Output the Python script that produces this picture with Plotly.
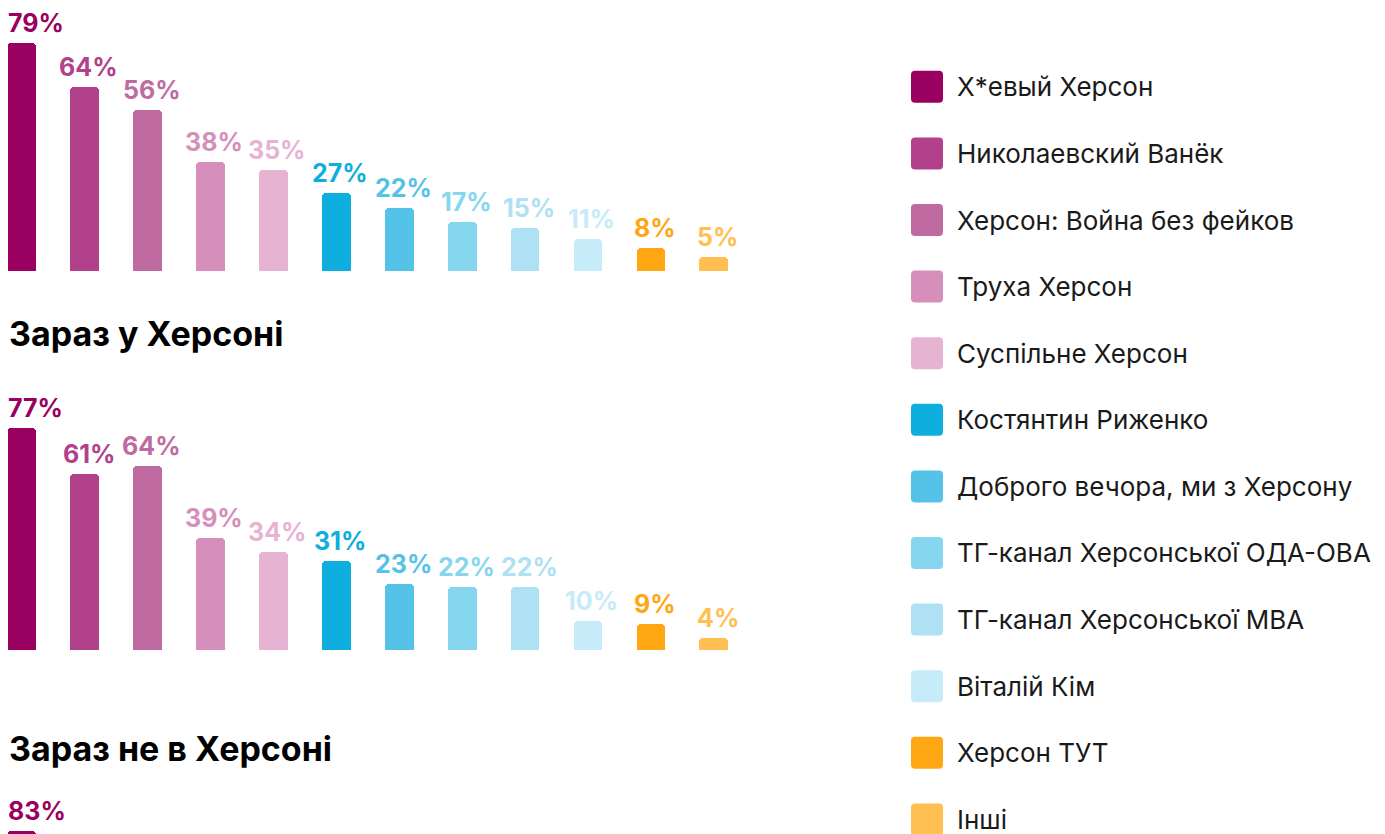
import plotly.graph_objects as go

# ---------------- data ----------------
channels = [
    "Х*евый Херсон",
    "Николаевский Ванёк",
    "Херсон: Война без фейков",
    "Труха Херсон",
    "Суспільне Херсон",
    "Костянтин Риженко",
    "Доброго вечора, ми з Херсону",
    "ТГ-канал Херсонської ОДА-ОВА",
    "ТГ-канал Херсонської МВА",
    "Віталій Кім",
    "Херсон ТУТ",
    "Інші",
]
colors = [
    "#990060", "#B1418A", "#BF6AA1", "#D68EBB", "#E6B3D3",
    "#0EAEDE", "#55C3E7", "#86D6EF", "#AEE1F3", "#C6ECFA",
    "#FFA712", "#FFBF52",
]
all_respondents = [79, 64, 56, 38, 35, 27, 22, 17, 15, 11, 8, 5]
in_kherson = [77, 61, 64, 39, 34, 31, 23, 22, 22, 10, 9, 4]
# only the first value of this panel is visible in the picture
not_in_kherson = [83, None, None, None, None, None, None, None, None, None, None, None]

panel_values = [all_respondents, in_kherson, not_in_kherson]
panel_titles = [None, "Зараз у Херсоні", "Зараз не в Херсоні"]

# ---------------- layout constants ----------------
PAGE_W, PAGE_H = 1385, 834
OFF = 8                      # default page margin around the plot div
W, H = PAGE_W - OFF, PAGE_H - OFF


def px_x(p):                 # page pixel -> paper x
    return (p - OFF) / W


def px_y(p):                 # page pixel -> paper y
    return 1 - (p - OFF) / H


PX_PER_PCT = 2.88
BAR_PITCH = 62.92
FIRST_CENTER = 21.7
BAR_PX = 28.8
BAR_W = BAR_PX / BAR_PITCH
X_DOMAIN_END = 880
x_r0 = (OFF - FIRST_CENTER) / BAR_PITCH
x_r1 = x_r0 + (X_DOMAIN_END - OFF) / BAR_PITCH

# (baseline px, top px, bottom px, title center px) in page pixels
panel_geom = [
    (271, OFF, 271, None),
    (650, 380, 650, 333),
    (1070, 790, PAGE_H, 748),
]

FONT = "Inter, Roboto, sans-serif"

fig = go.Figure()
layout = dict(
    width=W, height=H,
    margin=dict(l=0, r=0, t=0, b=0),
    paper_bgcolor="white", plot_bgcolor="white",
    showlegend=False,
    bargap=0,
)
annotations = []
shapes = []

xs = list(range(len(channels)))
for k, (vals, title, geom) in enumerate(zip(panel_values, panel_titles, panel_geom)):
    base, top, bottom, title_px = geom
    suffix = "" if k == 0 else str(k + 1)
    fig.add_trace(go.Bar(
        x=xs, y=vals, width=BAR_W,
        marker=dict(color=colors, cornerradius=4, line=dict(width=0)),
        xaxis="x" + suffix, yaxis="y" + suffix,
        hoverinfo="skip",
    ))
    layout["xaxis" + suffix] = dict(
        domain=[0, px_x(X_DOMAIN_END)], range=[x_r0, x_r1], visible=False,
        anchor="y" + suffix, fixedrange=True,
    )
    layout["yaxis" + suffix] = dict(
        domain=[max(0, px_y(bottom)), min(1, px_y(top))],
        range=[(base - bottom) / PX_PER_PCT, (base - top) / PX_PER_PCT],
        visible=False, anchor="x" + suffix, fixedrange=True,
    )
    for i, v in enumerate(vals):
        if v is None:
            continue
        first = i == 0
        annotations.append(dict(
            x=i, y=v,
            xref="x" + suffix, yref="y" + suffix,
            text=f"{v}%", showarrow=False,
            xanchor="left" if first else "center", yanchor="bottom",
            xshift=-(BAR_PX / 2 + 1) if first else 4, yshift=3,
            font=dict(family=FONT, size=25, color=colors[i], weight=700),
        ))
    if title:
        annotations.append(dict(
            x=px_x(7), y=px_y(title_px), xref="paper", yref="paper",
            text=title, showarrow=False, xanchor="left", yanchor="middle",
            font=dict(family=FONT, size=34, color="#000000", weight=700),
        ))

# ---------------- legend (colour key) ----------------
LEG_X = 911
LEG_TEXT_X = 955
LEG_Y0 = 86.8
LEG_STEP = 66.6
SW = 32
R = 4


def rounded_rect(w, h, r):
    hh = h / 2
    return (f"M {r},{-hh} L {w - r},{-hh} Q {w},{-hh} {w},{-hh + r} "
            f"L {w},{hh - r} Q {w},{hh} {w - r},{hh} L {r},{hh} "
            f"Q 0,{hh} 0,{hh - r} L 0,{-hh + r} Q 0,{-hh} {r},{-hh} Z")


for j, (name, c) in enumerate(zip(channels, colors)):
    cy = LEG_Y0 + LEG_STEP * j
    shapes.append(dict(
        type="path", xref="paper", yref="paper",
        xsizemode="pixel", ysizemode="pixel",
        xanchor=px_x(LEG_X), yanchor=px_y(cy),
        path=rounded_rect(SW, SW, R),
        fillcolor=c, line=dict(width=0), layer="above",
    ))
    annotations.append(dict(
        x=px_x(LEG_TEXT_X), y=px_y(cy), xref="paper", yref="paper",
        text=name, showarrow=False, xanchor="left", yanchor="middle",
        font=dict(family=FONT, size=26, color="#1a1a1a"),
    ))

layout["annotations"] = annotations
layout["shapes"] = shapes
fig.update_layout(**layout)

fig.write_html("out.html", config={"displayModeBar": False})
